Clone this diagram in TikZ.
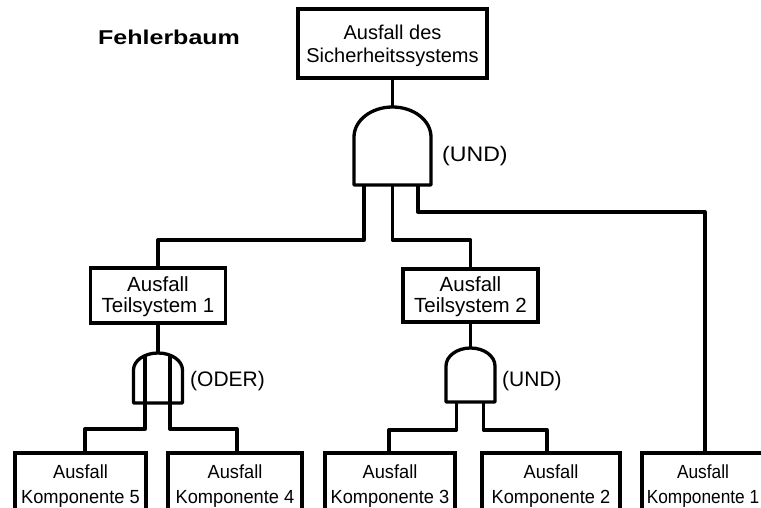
\documentclass[tikz,border=0pt]{standalone}
\usepackage{fontspec}
\setmainfont{Liberation Sans}
\newfontfamily\titlefont[FakeStretch=1.25]{Liberation Sans}
\newfontfamily\gatefont[FakeStretch=1.1]{Liberation Sans}
\newfontfamily\kompfont[FakeStretch=0.96]{Liberation Sans}
\newfontfamily\kompnarrow[FakeStretch=0.91]{Liberation Sans}
\tikzset{
  box/.style={draw, line width=3.3pt, inner sep=0pt, align=center},
  topbox/.style={box, font={\fontsize{20}{23}\selectfont}},
  subbox/.style={box, font={\fontsize{20.5}{21}\selectfont}},
  leafbox/.style={box, minimum height=67, font={\kompfont\fontsize{19}{25}\selectfont}},
  gatelabel/.style={anchor=base west, inner sep=0pt, font={\gatefont\fontsize{21}{21}\selectfont}},
  conn/.style={line width=3.3pt, line join=round},
  gate/.style={draw, line width=3.3pt, line join=round, fill=white},
}
\begin{document}
\begin{tikzpicture}[x=1pt, y=-1pt]
  \fill[white] (0,0) rectangle (761,508);
  \useasboundingbox (0,0) rectangle (761,508);
  \clip (0,0) rectangle (761,508);

  % title
  \node[anchor=base west, inner sep=0pt, font={\titlefont\bfseries\fontsize{20}{20}\selectfont}]
    (title) at (98,45) {Fehlerbaum};

  % events
  \node[topbox, minimum width=189, minimum height=69] (top) at (392.5,43.5)
    {\rule{0pt}{20pt}Ausfall des\\Sicherheitssystems};
  \node[subbox, minimum width=135, minimum height=55] (s1) at (158,295.5)
    {\rule{0pt}{17pt}Ausfall\\Teilsystem 1};
  \node[subbox, minimum width=135, minimum height=53] (s2) at (470.5,295.5)
    {\rule{0pt}{17pt}Ausfall\\Teilsystem 2};
  \node[leafbox, minimum width=131] (k5) at (80.5,486.5) {Ausfall\\Komponente 5};
  \node[leafbox, minimum width=134] (k4) at (235,486.5) {Ausfall\\Komponente 4};
  \node[leafbox, minimum width=130] (k3) at (390,486.5) {Ausfall\\Komponente 3};
  \node[leafbox, minimum width=138] (k2) at (551,486.5) {Ausfall\\Komponente 2};
  \node[leafbox, minimum width=122, font={\kompnarrow\fontsize{19}{25}\selectfont}]
    (k1) at (703,486.5) {Ausfall\\Komponente 1};

  % gate anchor points
  \coordinate (g0in) at (392.5,107);
  \coordinate (g0a) at (364,185);
  \coordinate (g0b) at (392.5,185);
  \coordinate (g0c) at (418,185);
  \coordinate (g1in) at (158,353);
  \coordinate (g1a) at (145,403);
  \coordinate (g1b) at (170,403);
  \coordinate (g2in) at (470.5,348);
  \coordinate (g2a) at (456.5,402);
  \coordinate (g2b) at (483.5,402);

  % connectors
  \draw[conn] (top.south) -- (g0in);
  \draw[conn] (g0a) -- ++(0,55) -| (s1.north);
  \draw[conn] (g0b) -- ++(0,55) -| (s2.north);
  \draw[conn] (g0c) -- ++(0,27) -| ([xshift=2pt]k1.north);
  \draw[conn] (s1.south) -- (g1in);
  \draw[conn] (s2.south) -- (g2in);
  \draw[conn] (g1a) -- ++(0,26) -| ([xshift=4.5pt]k5.north);
  \draw[conn] (g1b) -- ++(0,26) -| ([xshift=2pt]k4.north);
  \draw[conn] (g2a) -- ++(0,28) -| ([xshift=-1pt]k3.north);
  \draw[conn] (g2b) -- ++(0,28) -| ([xshift=-4pt]k2.north);

  % UND gate of the top event
  \draw[gate] (354,185) -- (354,137)
    arc[start angle=180, end angle=360, x radius=38.5, y radius=30] -- (431,185) -- cycle;
  % ODER gate of subsystem 1
  \draw[gate] (133.5,403) -- (133.5,370)
    arc[start angle=180, end angle=360, x radius=24.5, y radius=17] -- (182.5,403) -- cycle;
  \draw[conn] (145,356) -- (g1a);
  \draw[conn] (170,356) -- (g1b);
  % UND gate of subsystem 2
  \draw[gate] (446,402) -- (446,366)
    arc[start angle=180, end angle=360, x radius=24.5, y radius=18] -- (495,402) -- cycle;

  % gate labels
  \node[gatelabel] (l0) at (442,162) {(UND)};
  \node[gatelabel, font={\fontsize{21}{21}\selectfont}] (l1) at (190,386) {(ODER)};
  \node[gatelabel, font={\fontsize{21}{21}\selectfont}] (l2) at (502,386) {(UND)};
\end{tikzpicture}
\end{document}
